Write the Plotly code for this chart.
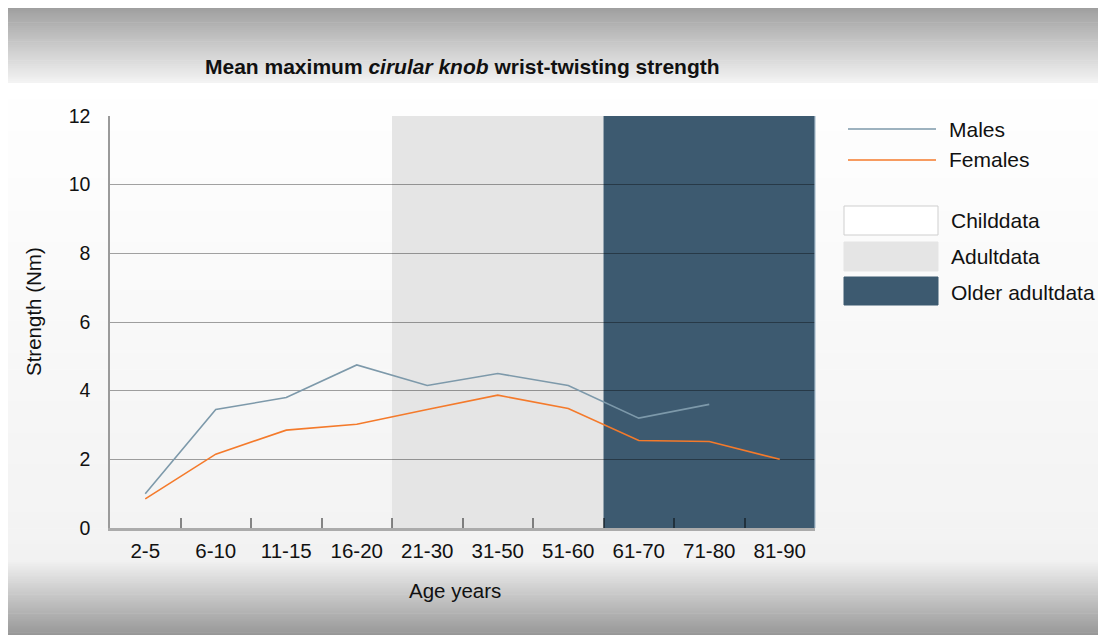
import plotly.graph_objects as go

categories = ["2-5", "6-10", "11-15", "16-20", "21-30", "31-50", "51-60", "61-70", "71-80", "81-90"]
males = [1.0, 3.45, 3.8, 4.75, 4.15, 4.5, 4.15, 3.2, 3.6, None]
females = [0.85, 2.15, 2.85, 3.02, 3.45, 3.87, 3.48, 2.55, 2.52, 2.0]
groups = ["Childdata", "Adultdata", "Older adultdata"]
group_spans = [(0, 3), (4, 6), (7, 9)]
group_colors = ["rgba(0,0,0,0)", "#e5e5e5", "#3d5a70"]

W, H = 1098, 627
L, R, T, B = 102, 807, 108, 520

def xp(px):
    return (px - L) / (R - L)

def yp(py):
    return (B - py) / (B - T)

FONT = "Liberation Sans, Arial, Helvetica, sans-serif"

fig = go.Figure()
fig.add_trace(go.Scatter(x=categories, y=males, mode="lines", name="Males",
                         line=dict(color="#7d99aa", width=1.6), connectgaps=False))
fig.add_trace(go.Scatter(x=categories, y=females, mode="lines", name="Females",
                         line=dict(color="#f47a2b", width=1.6)))

shapes = []

def lerp(a, b, t):
    return a + (b - a) * t

def grad(py0, py1, c0, c1, n):
    for i in range(n):
        a = py0 + (py1 - py0) * i / n
        b = py0 + (py1 - py0) * (i + 1) / n + 0.6
        t = (i + 0.5) / n
        v = int(round(lerp(c0, c1, t)))
        col = f"rgb({v},{v},{v})"
        shapes.append(dict(type="rect", xref="paper", yref="paper",
                           x0=xp(-2), x1=xp(W + 2), y0=yp(b), y1=yp(a),
                           fillcolor=col, line=dict(width=0), layer="below"))

grad(-1, 75, 158, 244, 40)
grad(75, 552, 255, 242, 30)
grad(552, H + 1, 242, 150, 40)

# age-group regions
for (s, e), col in zip(group_spans, group_colors):
    shapes.append(dict(type="rect", xref="x", yref="paper",
                       x0=s - 0.5, x1=e + 0.5, y0=0, y1=1,
                       fillcolor=col, line=dict(width=0), layer="below"))

# right border of plot
shapes.append(dict(type="line", xref="paper", yref="paper", x0=1, x1=1, y0=0, y1=1,
                   line=dict(color="rgba(170,190,205,0.8)", width=1.5), layer="above"))

# legend line samples
shapes.append(dict(type="line", xref="paper", yref="paper", x0=xp(840), x1=xp(928),
                   y0=yp(121), y1=yp(121), line=dict(color="#7d99aa", width=1.5)))
shapes.append(dict(type="line", xref="paper", yref="paper", x0=xp(840), x1=xp(928),
                   y0=yp(152), y1=yp(152), line=dict(color="#f47a2b", width=1.5)))
# legend boxes
box_y = [(198, 227), (234, 263), (269, 297)]
box_fill = ["#ffffff", "#e5e5e5", "#3d5a70"]
box_line = ["#cfcfcf", "#e5e5e5", "#3d5a70"]
for (a, b), f, lc in zip(box_y, box_fill, box_line):
    shapes.append(dict(type="rect", xref="paper", yref="paper", x0=xp(836), x1=xp(930),
                       y0=yp(b), y1=yp(a), fillcolor=f, line=dict(color=lc, width=1)))

annotations = []
for txt, py in [("Males", 121), ("Females", 152)]:
    annotations.append(dict(text=txt, xref="paper", yref="paper", x=xp(939), y=yp(py),
                            xanchor="left", yanchor="middle", showarrow=False,
                            font=dict(family=FONT, size=21, color="#111")))
for txt, py in zip(groups, [212, 249, 284]):
    annotations.append(dict(text=txt, xref="paper", yref="paper", x=xp(941), y=yp(py),
                            xanchor="left", yanchor="middle", showarrow=False,
                            font=dict(family=FONT, size=21, color="#111")))
annotations.append(dict(text="<b>Mean maximum <i>cirular knob</i> wrist-twisting strength</b>",
                        xref="paper", yref="paper", x=0.5, y=yp(58), xanchor="center",
                        yanchor="middle", showarrow=False,
                        font=dict(family=FONT, size=21, color="#111")))
annotations.append(dict(text="Strength (Nm)", xref="paper", yref="paper", x=xp(25), y=yp(304),
                        xanchor="center", yanchor="middle", textangle=-90, showarrow=False,
                        font=dict(family=FONT, size=20.5, color="#111")))
annotations.append(dict(text="Age years", xref="paper", yref="paper", x=xp(447), y=yp(582),
                        xanchor="center", yanchor="middle", showarrow=False,
                        font=dict(family=FONT, size=20.5, color="#111")))

fig.update_layout(
    width=W, height=H,
    margin=dict(l=L, r=W - R, t=T, b=H - B, pad=0),
    paper_bgcolor="#ffffff", plot_bgcolor="rgba(0,0,0,0)",
    showlegend=False,
    shapes=shapes, annotations=annotations,
    xaxis=dict(type="category", categoryorder="array", categoryarray=categories,
               range=[-0.5, 9.5], tickson="boundaries", ticks="inside", ticklen=10,
               tickwidth=1.5, tickcolor="rgba(0,0,0,0.45)", showgrid=False,
               showline=True, linecolor="#ababab", linewidth=2.5,
               tickfont=dict(family=FONT, size=20.5, color="#111"), ticklabelstandoff=3,
               zeroline=False),
    yaxis=dict(range=[0, 12], dtick=2, tick0=0, showgrid=True,
               gridcolor="rgba(0,0,0,0.36)", gridwidth=1.2,
               showline=True, linecolor="#9a9a9a", linewidth=1.5, ticks="",
               tickfont=dict(family=FONT, size=19.5, color="#111"), ticklabelstandoff=14,
               zeroline=False),
)

fig.write_html("out.html")
